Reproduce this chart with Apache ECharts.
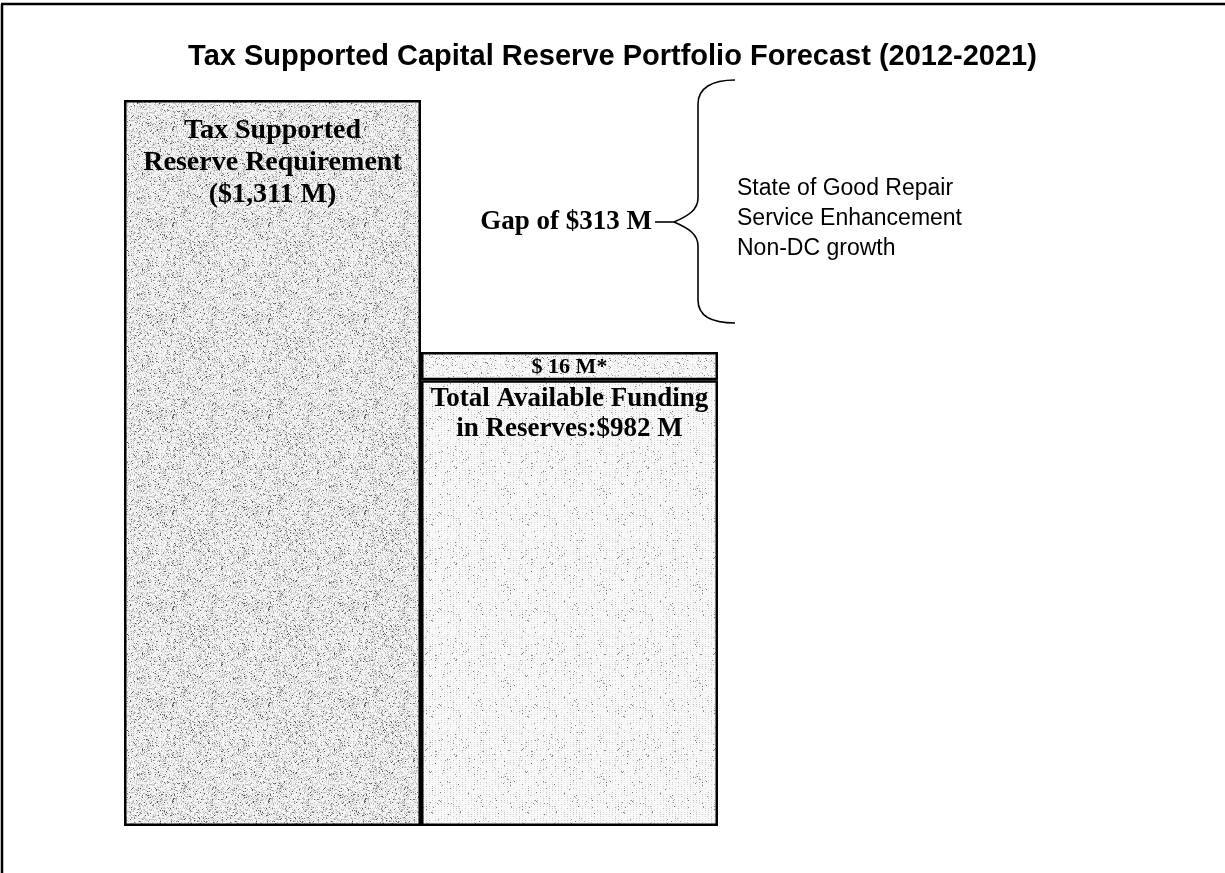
<!DOCTYPE html>
<html>
<head>
<meta charset="utf-8">
<script src="https://cdn.jsdelivr.net/npm/echarts@6/dist/echarts.min.js"></script>
<style>
html,body{margin:0;padding:0;background:#fff;}
#chart{width:1225px;height:873px;}
</style>
</head>
<body>
<div id="chart"></div>
<script>
// ---- data (heights as drawn in the reference; the chart is not to scale) ----
const chartTitle = 'Tax Supported Capital Reserve Portfolio Forecast (2012-2021)';
const categories = ['Tax Supported Reserve Requirement', 'Total Available Funding in Reserves'];
const requirementValues = [1311, '-'];
const availableValues = ['-', 805];
const unallocatedValues = ['-', 51];
const requirementLabel = 'Tax Supported\nReserve Requirement\n($1,311 M)';
const availableLabel = 'Total Available Funding\nin Reserves:$982 M';
const unallocatedLabel = '$ 16 M*';
const gapLabel = 'Gap of $313 M';
const gapReasons = ['State of Good Repair', 'Service Enhancement', 'Non-DC growth'];

// ---- textures (styling only) ----
function makeTexture(kind) {
  const c = document.createElement('canvas');
  c.width = 96; c.height = 96;
  const ctx = c.getContext('2d');
  const img = ctx.createImageData(96, 96);
  let s = kind === 'left' ? 12345 : (kind === 'grid' ? 777 : 4242);
  function rnd() { s = (s * 1103515245 + 12345) % 2147483648; return s / 2147483648; }
  for (let y = 0; y < 96; y++) {
    for (let x = 0; x < 96; x++) {
      const r = rnd();
      let v;
      if (kind === 'left') {
        if (r < 0.05) v = 70 + rnd() * 80;
        else if (r < 0.30) v = 175 + rnd() * 40;
        else v = 232 + rnd() * 20;
      } else if (kind === 'grid') {
        if (x % 3 === 0 && y % 2 === 0) v = (r < 0.6 ? 185 + rnd() * 40 : 240);
        else v = 248;
        if (r < 0.015) v = 110 + rnd() * 60;
      } else {
        if (r < 0.03) v = 110 + rnd() * 60;
        else if (r < 0.20) v = 200 + rnd() * 35;
        else v = 242 + rnd() * 12;
      }
      const i = (y * 96 + x) * 4;
      img.data[i] = img.data[i + 1] = img.data[i + 2] = v;
      img.data[i + 3] = 255;
    }
  }
  ctx.putImageData(img, 0, 0);
  return c;
}

const chart = echarts.init(document.getElementById('chart'), null, { renderer: 'canvas' });

const serif = '"Liberation Serif", "Times New Roman", serif';
const sans = '"Liberation Sans", Arial, sans-serif';

function barSeries(name, data, tex, label) {
  label.textBorderWidth = 0;
  label.textShadowBlur = 0;
  return {
    name: name,
    type: 'bar',
    stack: 'all',
    barWidth: '100%',
    data: data,
    itemStyle: {
      color: { image: makeTexture(tex), repeat: 'repeat' },
      borderColor: '#000',
      borderWidth: 2.5
    },
    label: label,
    silent: true
  };
}

const braceStyle = { fill: 'none', stroke: '#000', lineWidth: 1.6 };

const option = {
  animation: false,
  backgroundColor: '#fff',
  title: {
    text: chartTitle,
    left: 'center',
    top: 37,
    textStyle: { fontFamily: sans, fontWeight: 'bold', fontSize: 29, color: '#000' }
  },
  grid: { left: 124, right: 507, top: 100, bottom: 47 },
  xAxis: { type: 'category', data: categories, show: false },
  yAxis: { type: 'value', min: 0, max: 1311, show: false },
  series: [
    barSeries('Requirement', requirementValues, 'left', {
      show: true, position: 'insideTop', distance: 15,
      formatter: () => requirementLabel,
      fontFamily: serif, fontWeight: 'bold', fontSize: 28, lineHeight: 32, color: '#000'
    }),
    barSeries('Available', availableValues, 'grid', {
      show: true, position: 'insideTop', distance: 4,
      formatter: () => availableLabel,
      fontFamily: serif, fontWeight: 'bold', fontSize: 27, lineHeight: 30, color: '#000'
    }),
    barSeries('Unallocated', unallocatedValues, 'seg', {
      show: true, position: 'inside', offset: [0, 1],
      formatter: () => unallocatedLabel,
      fontFamily: serif, fontWeight: 'bold', fontSize: 22, color: '#000'
    })
  ],
  graphic: [
    { type: 'line', z: -1, silent: true, shape: { x1: 1, y1: 4, x2: 1225, y2: 4 },
      style: { stroke: '#000', lineWidth: 2.5 } },
    { type: 'line', z: -1, silent: true, shape: { x1: 2, y1: 4, x2: 2, y2: 873 },
      style: { stroke: '#000', lineWidth: 2.5 } },
    {
      type: 'text', silent: true,
      style: {
        text: gapLabel, x: 652, y: 222, align: 'right', verticalAlign: 'middle',
        font: 'bold 27px ' + serif, fill: '#000'
      }
    },
    { type: 'bezierCurve', silent: true,
      shape: { x1: 735, y1: 80, cpx1: 712, cpy1: 80, cpx2: 698, cpy2: 88, x2: 698, y2: 104 }, style: braceStyle },
    { type: 'line', silent: true, shape: { x1: 698, y1: 104, x2: 698, y2: 198 }, style: braceStyle },
    { type: 'bezierCurve', silent: true,
      shape: { x1: 698, y1: 198, cpx1: 698, cpy1: 210, cpx2: 688, cpy2: 216, x2: 674, y2: 222 }, style: braceStyle },
    { type: 'bezierCurve', silent: true,
      shape: { x1: 674, y1: 222, cpx1: 688, cpy1: 228, cpx2: 698, cpy2: 234, x2: 698, y2: 246 }, style: braceStyle },
    { type: 'line', silent: true, shape: { x1: 698, y1: 246, x2: 698, y2: 300 }, style: braceStyle },
    { type: 'bezierCurve', silent: true,
      shape: { x1: 698, y1: 300, cpx1: 698, cpy1: 316, cpx2: 712, cpy2: 323, x2: 735, y2: 323 }, style: braceStyle },
    { type: 'line', silent: true, shape: { x1: 655, y1: 222, x2: 674, y2: 222 }, style: braceStyle },
    {
      type: 'text', silent: true,
      style: {
        text: gapReasons.join('\n'), x: 737, y: 219, align: 'left', verticalAlign: 'middle',
        font: '23px ' + sans, lineHeight: 30, fill: '#000'
      }
    }
  ]
};
chart.setOption(option);
</script>
</body>
</html>
